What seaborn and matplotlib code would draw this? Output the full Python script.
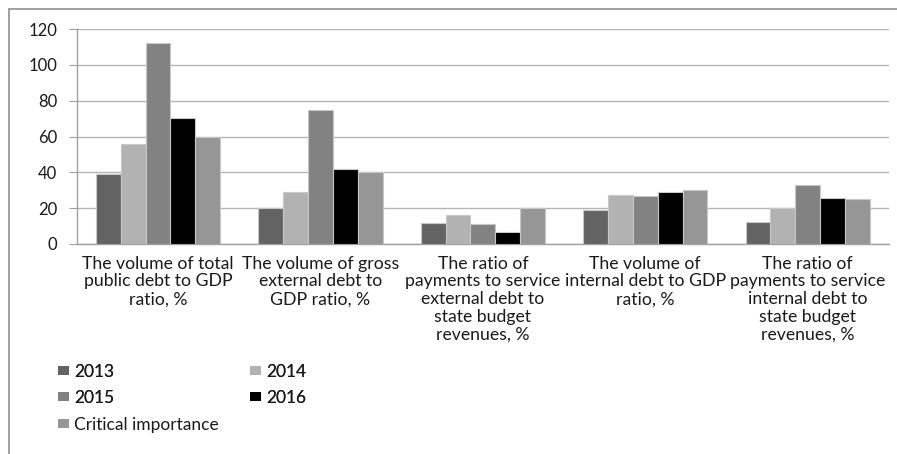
import matplotlib
matplotlib.use("Agg")
import matplotlib.pyplot as plt
from matplotlib.lines import Line2D
from matplotlib.patches import Patch
from matplotlib import font_manager
import seaborn as sns
import pandas as pd

categories = [
    "The volume of total\npublic debt to GDP\nratio, %",
    "The volume of gross\nexternal debt to\nGDP ratio, %",
    "The ratio of\npayments to service\nexternal debt to\nstate budget\nrevenues, %",
    "The volume of\ninternal debt to GDP\nratio, %",
    "The ratio of\npayments to service\ninternal debt to\nstate budget\nrevenues, %",
]
series_names = ["2013", "2014", "2015", "2016", "Critical importance"]
v2013 = [39, 20, 11.7, 19.2, 12.1]
v2014 = [56, 28.9, 16, 27.4, 20]
v2015 = [112.4, 75, 11, 26.8, 32.8]
v2016 = [70.6, 42, 6.5, 28.9, 25.7]
vcrit = [60, 40, 20, 30, 25]
colors = ["#636363", "#b2b2b2", "#828282", "#000000", "#969696"]

rows = []
for name, vals in zip(series_names, [v2013, v2014, v2015, v2016, vcrit]):
    for c, v in zip(categories, vals):
        rows.append({"cat": c, "series": name, "value": v})
df = pd.DataFrame(rows)

sns.set_style("white")
avail = {f.name for f in font_manager.fontManager.ttflist}
fam = "Lato" if "Lato" in avail else "DejaVu Sans"
plt.rcParams["font.family"] = [fam, "DejaVu Sans"]
plt.rcParams["text.color"] = "#1a1a1a"

fig = plt.figure(figsize=(8.97, 4.54), dpi=100)
ax = fig.add_axes([76.7 / 897, 1 - 244 / 454, (889 - 76.7) / 897, (244 - 29) / 454])

sns.barplot(data=df, x="cat", y="value", hue="series", hue_order=series_names,
            palette=colors, width=0.765, gap=0, edgecolor="#c8c8c8", linewidth=0.8,
            ax=ax, legend=False, zorder=3)

ax.set_ylim(0, 120)
ax.set_yticks(range(0, 121, 20))
ax.set_xlim(-0.5, len(categories) - 0.5)
ax.set_xlabel("")
ax.set_ylabel("")
ax.grid(axis="y", color="#b4b4b4", linewidth=1, zorder=0)
ax.set_axisbelow(True)
for s in ["top", "right"]:
    ax.spines[s].set_visible(False)
for s in ["left", "bottom"]:
    ax.spines[s].set_color("#a0a0a0")
    ax.spines[s].set_linewidth(1)
ax.tick_params(axis="x", which="major", length=0, pad=8.5, labelsize=12.7, labelcolor="#1a1a1a")
ax.set_xticks([i - 0.5 for i in range(len(categories) + 1)], minor=True)
ax.tick_params(axis="x", which="minor", length=5, color="#a0a0a0", direction="out")
ax.tick_params(axis="y", length=6, color="#a0a0a0", left=True, pad=8,
               labelsize=12, labelcolor="#1a1a1a")
for lbl in ax.get_xticklabels():
    lbl.set_linespacing(1.13)

handles = [Patch(facecolor=c, edgecolor="none") for c in colors]
common = dict(frameon=False, loc="upper left", handlelength=0.63, handleheight=0.4,
              handletextpad=0.3, borderpad=0, borderaxespad=0, fontsize=12.5)
leg1 = fig.legend([handles[0], handles[2], handles[1], handles[3]],
                  ["2013", "2015", "2014", "2016"], ncol=2,
                  bbox_to_anchor=(58 / 897, 1 - 364 / 454),
                  labelspacing=0.56, columnspacing=7.8, **common)
leg2 = fig.legend([handles[4]], ["Critical importance"],
                  bbox_to_anchor=(58 / 897, 1 - 417 / 454), **common)
fig.add_artist(leg1)

fig.add_artist(Line2D([9 / 897, 1], [1 - 9 / 454, 1 - 9 / 454], color="#909090", linewidth=1.2))
fig.add_artist(Line2D([9 / 897, 9 / 897], [0, 1 - 9 / 454], color="#909090", linewidth=1.2))

fig.savefig("out.png", dpi=100)
